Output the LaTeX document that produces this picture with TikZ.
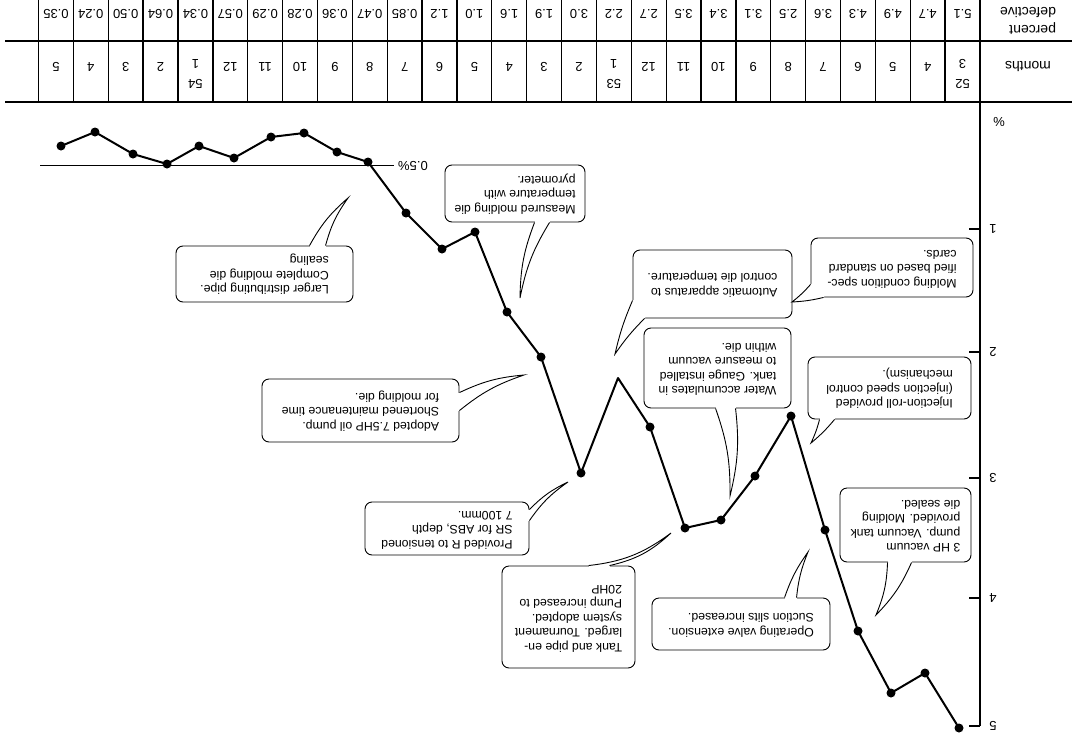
\documentclass[tikz,border=0pt]{standalone}
\usepackage{fontspec}
\setmainfont{Liberation Sans}
\usepackage{graphicx}
\usetikzlibrary{calc}

% text block set upside down, lines flush to the (printed) left
\newcommand\flipped[1]{\rotatebox{180}{\begin{tabular}{@{}l@{}}#1\end{tabular}}}
% speech-bubble tail: base A, base B, tip, bend angle
\newcommand\bubbletail[4]{%
  \fill[white] (#1) to[bend left=#4] (#3) to[bend right=#4] (#2) -- cycle;
  \draw[white, line width=2pt] (#1) -- (#2);
  \draw[edge] (#1) to[bend left=#4] (#3) to[bend right=#4] (#2);
}

\begin{document}
\begin{tikzpicture}[x=1pt, y=-1pt,
  edge/.style={line width=0.9pt},
  grid/.style={line width=1.3pt},
  lbl/.style={rotate=180, inner sep=0pt, font=\fontsize{13}{15}\selectfont},
  head/.style={rotate=180, inner sep=0pt, align=left, font=\fontsize{14}{17.5}\selectfont},
  bubble/.style={draw, line width=0.9pt, rounded corners=7pt, fill=white,
                 inner sep=0pt, font=\fontsize{12.3}{14.5}\selectfont},
  dot/.style={circle, fill=black, inner sep=0pt, minimum size=9pt},
  curve/.style={line width=2pt, line join=round}]
\useasboundingbox (0,0) rectangle (1072,734);

% ---------- table: percent defective / months ----------
\draw[grid] (5,41) -- (1072,41);
\draw[grid] (5,102) -- (1072,102);
\foreach \k in {1,...,27}
  \draw[grid] ({980-34.87*\k},0) -- ({980-34.87*\k},102);
\node[head] (hdrpct) at (1028,21) {percent\\defective};
\node[head] (hdrmon) at (1028,67) {months};

\foreach \v [count=\n] in {5.1,4.7,4.9,4.3,3.6,2.5,3.1,3.4,3.5,2.7,2.2,3.0,1.9,1.6,1.0,1.2,0.85,0.47,0.36,0.28,0.29,0.57,0.34,0.64,0.50,0.24,0.35}
  \node[lbl] (pd\n) at ({980-34.87*(\n-0.5)},14) {\v};

\foreach \m [count=\n] in {3,4,5,6,7,8,9,10,11,12,1,2,3,4,5,6,7,8,9,10,11,12,1,2,3,4,5} {
  \ifnum\n=1 \def\my{64}\else\ifnum\n=11 \def\my{64}\else\ifnum\n=23 \def\my{64}\else\def\my{67}\fi\fi\fi
  \node[lbl] (mo\n) at ({980-34.87*(\n-0.5)},\my) {\m};
}
\node[lbl] (yr52) at ({980-34.87*0.5},84) {52};
\node[lbl] (yr53) at ({980-34.87*10.5},84) {53};
\node[lbl] (yr54) at ({980-34.87*22.5},84) {54};

% ---------- percent axis ----------
\draw[grid] (980,0) -- (980,726);
\foreach \v/\yy in {1/229,2/352,3/478,4/598,5/726} {
  \draw[grid] (969,\yy) -- (980,\yy);
  \node[lbl] (tk\v) at (993,\yy) {\v};
}
\node[lbl] (tkpct) at (999,122) {\%};

% ---------- 0.5% reference line ----------
\node[lbl] (half) at (413,165.5) {0.5\%};
\draw[grid] (40,165.5) -- ([xshift=-4pt]half.east);

% ---------- monthly defect curve ----------
\foreach \i/\x/\y in {0/959/728, 1/925/673, 2/891/693, 3/858/631, 4/825/530,
  5/791/416, 6/755/476, 7/721/520, 8/685/528, 9/650/427, 11/581/473,
  12/541/357, 13/507/312, 14/475/232, 15/442/249, 16/406/213, 17/368/162,
  18/337/152, 19/304/133, 20/271/137, 21/234/158, 22/199/146, 23/167/164,
  24/133/154, 25/95/132, 26/61/146}
  \node[dot] (p\i) at (\x,\y) {};
\coordinate (p10) at (618,378);
\draw[curve] (p0.center) -- (p1.center) -- (p2.center) -- (p3.center) -- (p4.center)
  -- (p5.center) -- (p6.center) -- (p7.center) -- (p8.center) -- (p9.center) -- (p10)
  -- (p11.center) -- (p12.center) -- (p13.center) -- (p14.center) -- (p15.center)
  -- (p16.center) -- (p17.center) -- (p18.center) -- (p19.center) -- (p20.center)
  -- (p21.center) -- (p22.center) -- (p23.center) -- (p24.center) -- (p25.center)
  -- (p26.center);

% ---------- remarks ----------
\node[bubble, minimum width=177pt, minimum height=56pt] (b1) at (264.5,274)
  {\flipped{Larger distributing pipe.\\Complete molding die\\sealing}};
\node[bubble, minimum width=140pt, minimum height=57pt] (b2) at (515,193.5)
  {\flipped{Measured molding die\\temperature with\\pyrometer.}};
\node[bubble, minimum width=197pt, minimum height=63pt] (b3) at (360.5,410.5)
  {\flipped{Adopted 7.5HP oil pump.\\Shortened maintenance time\\for molding die.}};
\node[bubble, minimum width=164pt, minimum height=53pt] (b4) at (447,528.5)
  {\flipped{Provided R to tensioned\\SR for ABS, depth\\7 100mm.}};
\node[bubble, minimum width=133pt, minimum height=102pt] (b5) at (568.5,617)
  {\flipped{Tank and pipe en-\\larged. Tournament\\system adopted.\\Pump increased to\\20HP}};
\node[bubble, minimum width=178pt, minimum height=52pt] (b6) at (741,624)
  {\flipped{Operating valve extension.\\Suction slits increased.}};
\node[bubble, minimum width=131pt, minimum height=74pt] (b7) at (905.5,525)
  {\flipped{3 HP vacuum\\pump. Vacuum tank\\provided. Molding\\die sealed.}};
\node[bubble, minimum width=163pt, minimum height=62pt] (b8) at (889.5,388)
  {\flipped{Injection-roll provided\\(injection speed control\\mechanism).}};
\node[bubble, minimum width=147pt, minimum height=80pt] (b9) at (717.5,368)
  {\flipped{Water accumulates in\\tank. Gauge installed\\to measure vacuum\\within die.}};
\node[bubble, minimum width=159pt, minimum height=68pt] (b10) at (712.5,284)
  {\flipped{Automatic apparatus to\\control die temperature.}};
\node[bubble, minimum width=162pt, minimum height=59pt] (b11) at (892,267.5)
  {\flipped{Molding condition spec-\\ified based on standard\\cards.}};

% tail tips
\coordinate (t1) at (348,198);
\coordinate (t2) at (520,298);
\coordinate (t3) at (524,375);
\coordinate (t4) at (568,482);
\coordinate (t5) at (671,533);
\coordinate (t6) at (808,552);
\coordinate (t7) at (876,615);
\coordinate (t8) at (811,443);
\coordinate (t9) at (730,496);
\coordinate (t10) at (615,354);
\coordinate (t11) at (792,302);

\bubbletail{[xshift=134pt]b1.north west}{[xshift=150pt]b1.north west}{t1}{10}
\bubbletail{[xshift=90pt]b2.south west}{[xshift=105pt]b2.south west}{t2}{-10}
\bubbletail{[yshift=-14pt]b3.north east}{[yshift=-32pt]b3.north east}{t3}{10}
\bubbletail{[yshift=-8pt]b4.north east}{[yshift=-19pt]b4.north east}{t4}{10}
\bubbletail{[xshift=87pt]b5.north west}{[xshift=108pt]b5.north west}{t5}{-15}
\bubbletail{[xshift=133pt]b6.north west}{[xshift=145pt]b6.north west}{t6}{8}
\bubbletail{[xshift=48pt]b7.south west}{[xshift=72pt]b7.south west}{t7}{10}
\bubbletail{[xshift=12pt]b8.south west}{[xshift=27pt]b8.south west}{t8}{5}
\bubbletail{[xshift=72pt]b9.south west}{[xshift=92pt]b9.south west}{t9}{10}
\bubbletail{[yshift=18pt]b10.south west}{[xshift=12pt]b10.south west}{t10}{-5}
\bubbletail{[yshift=13pt]b11.south west}{[xshift=13pt]b11.south west}{t11}{5}

\end{tikzpicture}
\end{document}
